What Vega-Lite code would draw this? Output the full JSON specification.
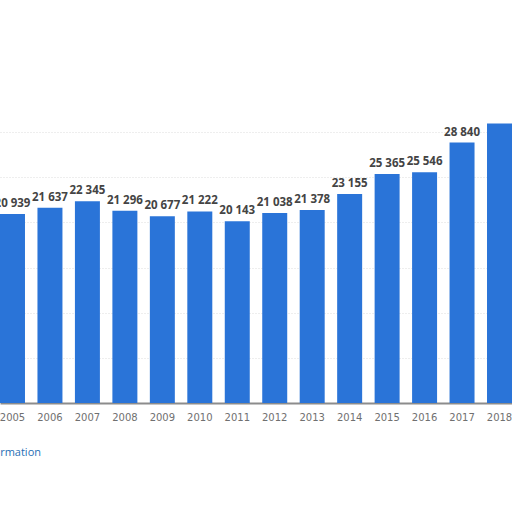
{
  "$schema": "https://vega.github.io/schema/vega-lite/v6.json",
  "width": 512,
  "height": 316,
  "autosize": "none",
  "padding": {"top": 87, "left": 0, "right": 0, "bottom": 109},
  "background": "white",
  "config": {
    "view": {"stroke": "transparent"},
    "locale": {"number": {"decimal": ".", "thousands": " ", "grouping": [3], "currency": ["", ""]}}
  },
  "title": {
    "text": "Additional Information",
    "orient": "bottom",
    "anchor": "start",
    "frame": "group",
    "dx": -75,
    "offset": 25,
    "font": "Open Sans",
    "fontSize": 11,
    "fontWeight": "normal",
    "color": "#1f6fb5"
  },
  "data": {
    "values": [
      {"year": "2005", "value": 20939},
      {"year": "2006", "value": 21637},
      {"year": "2007", "value": 22345},
      {"year": "2008", "value": 21296},
      {"year": "2009", "value": 20677},
      {"year": "2010", "value": 21222},
      {"year": "2011", "value": 20143},
      {"year": "2012", "value": 21038},
      {"year": "2013", "value": 21378},
      {"year": "2014", "value": 23155},
      {"year": "2015", "value": 25365},
      {"year": "2016", "value": 25546},
      {"year": "2017", "value": 28840},
      {"year": "2018", "value": 30950}
    ]
  },
  "encoding": {
    "x": {
      "field": "year",
      "type": "ordinal",
      "scale": {"paddingInner": 0.333, "paddingOuter": 0},
      "axis": {
        "title": null,
        "labelAngle": 0,
        "ticks": false,
        "labelPadding": 9,
        "labelFont": "DejaVu Sans",
        "labelFontSize": 10,
        "labelColor": "#707070",
        "domainColor": "#8c8c8c",
        "domainWidth": 2
      }
    },
    "y": {
      "field": "value",
      "type": "quantitative",
      "scale": {"domain": [0, 35000], "nice": false},
      "axis": {
        "title": null,
        "labels": false,
        "ticks": false,
        "domain": false,
        "values": [5000, 10000, 15000, 20000, 25000, 30000],
        "gridColor": "#dddddd",
        "gridDash": [1, 2],
        "gridWidth": 1
      }
    }
  },
  "layer": [
    {"mark": {"type": "bar", "color": "#2a74d8"}},
    {
      "transform": [{"filter": "datum.year != '2018'"}],
      "mark": {"type": "text", "baseline": "bottom", "dy": -5, "font": "Open Sans", "fontSize": 11.5, "fontWeight": "bold", "color": "#444444"},
      "encoding": {"text": {"field": "value", "type": "quantitative", "format": ",d"}}
    }
  ]
}
